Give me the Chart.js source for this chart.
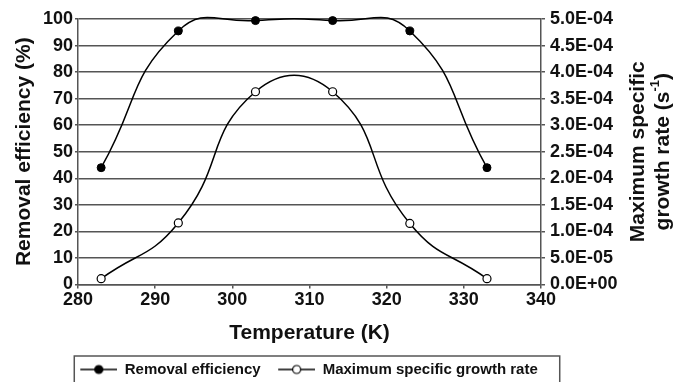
<!DOCTYPE html>
<html>
<head>
<meta charset="utf-8">
<script src="https://cdn.jsdelivr.net/npm/chart.js@4/dist/chart.umd.min.js"></script>
<style>
  html, body { margin: 0; padding: 0; background: #fff; }
  #wrap { width: 685px; height: 382px; }
</style>
</head>
<body>
<div id="wrap"><canvas id="chart" width="685" height="382"></canvas></div>
<script>
// temperatures (K)
const temps = [283, 293, 303, 313, 323, 333];
// removal efficiency (%)
const removal = [44, 95.5, 99.4, 99.4, 95.5, 44];
// maximum specific growth rate (s-1)
const growth = [1.1e-5, 1.16e-4, 3.63e-4, 3.63e-4, 1.15e-4, 1.1e-5];

const xTicks = [280, 290, 300, 310, 320, 330, 340];
const FONT = "'Liberation Sans', Arial, sans-serif";
const INK = '#111';
const GRID = '#555';

// legend icon: blank gap on the left, then a line with a marker in the middle
const ICON_GAP = 11, ICON_W = 37;
const LEGEND_SHIFT = 24;

function sci(v) {
  if (Math.abs(v) < 1e-12) return '0.0E+00';
  const parts = v.toExponential(1).split('e');
  const exp = parseInt(parts[1], 10);
  return parts[0] + 'E' + (exp < 0 ? '-' : '+') + String(Math.abs(exp)).padStart(2, '0');
}

function legendIcon(filled) {
  const c = document.createElement('canvas');
  c.width = ICON_GAP + ICON_W; c.height = 12;
  const g = c.getContext('2d');
  g.strokeStyle = '#000';
  g.lineWidth = 1.5;
  g.beginPath(); g.moveTo(ICON_GAP, 6); g.lineTo(ICON_GAP + ICON_W, 6); g.stroke();
  g.beginPath(); g.arc(ICON_GAP + ICON_W / 2, 6, 4, 0, Math.PI * 2);
  g.fillStyle = filled ? '#000' : '#fff';
  g.fill(); g.lineWidth = 1.2; g.stroke();
  return c;
}

const legendBox = {
  id: 'legendBox',
  afterLayout(chart) {
    const lg = chart.legend;
    if (!lg) return;
    lg.left -= LEGEND_SHIFT; lg.right -= LEGEND_SHIFT;
  },
  afterDraw(chart) {
    const boxes = chart.legend && chart.legend.legendHitBoxes;
    if (!boxes || !boxes.length) return;
    const first = boxes[0], last = boxes[boxes.length - 1];
    const ctx = chart.ctx;
    ctx.save();
    ctx.strokeStyle = '#555';
    ctx.lineWidth = 1.5;
    const l = first.left + ICON_GAP - 6;
    const r = last.left + last.width + 22;
    const t = first.top - 6;
    ctx.strokeRect(l, t, r - l, 40);
    ctx.restore();
  }
};

const rightTitle = {
  id: 'rightTitle',
  afterDraw(chart) {
    const ctx = chart.ctx;
    const a = chart.chartArea;
    const cy = (a.top + a.bottom) / 2;
    const big = 'bold 21px ' + FONT, small = 'bold 13px ' + FONT;
    ctx.save();
    ctx.fillStyle = INK;
    ctx.textBaseline = 'middle';
    // line 1
    ctx.save();
    ctx.translate(a.right + 97, cy);
    ctx.rotate(-Math.PI / 2);
    ctx.font = big;
    ctx.textAlign = 'center';
    ctx.fillText('Maximum specific', 0, 0);
    ctx.restore();
    // line 2 with superscript
    ctx.save();
    ctx.translate(a.right + 122, cy);
    ctx.rotate(-Math.PI / 2);
    ctx.textAlign = 'left';
    ctx.font = big;
    const w1 = ctx.measureText('growth rate (s').width;
    const w3 = ctx.measureText(')').width;
    ctx.font = small;
    const w2 = ctx.measureText('-1').width;
    let x = -(w1 + w2 + w3) / 2;
    ctx.font = big;
    ctx.fillText('growth rate (s', x, 0); x += w1;
    ctx.font = small;
    ctx.fillText('-1', x, -8); x += w2;
    ctx.font = big;
    ctx.fillText(')', x, 0);
    ctx.restore();
    ctx.restore();
  }
};

const tickFont = { family: FONT, size: 18, weight: 'bold' };

new Chart(document.getElementById('chart'), {
  type: 'line',
  data: {
    datasets: [
      {
        label: 'Removal efficiency',
        data: temps.map((t, i) => ({ x: t, y: removal[i] })),
        yAxisID: 'y',
        borderColor: '#000',
        borderWidth: 1.5,
        pointRadius: 4,
        pointBackgroundColor: '#000',
        pointBorderColor: '#000',
        pointBorderWidth: 1,
        tension: 0.5,
        clip: false
      },
      {
        label: 'Maximum specific growth rate',
        data: temps.map((t, i) => ({ x: t, y: growth[i] })),
        yAxisID: 'y1',
        borderColor: '#000',
        borderWidth: 1.5,
        pointRadius: 4,
        pointBackgroundColor: '#fff',
        pointBorderColor: '#000',
        pointBorderWidth: 1.2,
        tension: 0.5,
        clip: false
      }
    ]
  },
  options: {
    responsive: false,
    animation: false,
    devicePixelRatio: 1,
    elements: { line: { capBezierPoints: false } },
    layout: { padding: { top: 19, left: 0, right: 30, bottom: -5 } },
    plugins: {
      tooltip: { enabled: false },
      legend: {
        position: 'bottom',
        labels: {
          usePointStyle: true,
          pointStyleWidth: ICON_GAP + ICON_W,
          padding: 6.5,
          color: INK,
          font: { family: FONT, size: 15, weight: 'bold' },
          generateLabels(chart) {
            return chart.data.datasets.map((ds, i) => ({
              text: ds.label,
              pointStyle: legendIcon(i === 0),
              datasetIndex: i,
              fontColor: INK,
              lineWidth: 0
            }));
          }
        }
      }
    },
    scales: {
      x: {
        type: 'linear',
        min: 280, max: 340,
        afterBuildTicks: s => { s.ticks = xTicks.map(v => ({ value: v })); },
        afterFit: s => { s.height = 71; },
        grid: { drawOnChartArea: false, drawTicks: true, tickLength: 4, color: GRID, lineWidth: 1.5 },
        border: { display: true, color: GRID, width: 1.5 },
        ticks: { font: tickFont, color: INK, padding: 1, maxRotation: 0 },
        title: {
          display: true, text: 'Temperature (K)', color: INK,
          font: { family: FONT, size: 21, weight: 'bold' },
          padding: { top: 0, bottom: 10 }
        }
      },
      y: {
        position: 'left',
        min: 0, max: 100,
        afterFit: s => { s.width = 78; },
        ticks: { stepSize: 10, font: tickFont, color: INK, padding: 2 },
        grid: { color: GRID, lineWidth: 1.5, tickLength: 3 },
        border: { display: true, color: GRID, width: 1.5 },
        title: {
          display: true, text: 'Removal efficiency (%)', color: INK,
          font: { family: FONT, size: 21, weight: 'bold' },
          padding: { top: 12, bottom: 0 }
        }
      },
      y1: {
        position: 'right',
        min: 0, max: 5e-4,
        afterFit: s => { s.width = 114; },
        ticks: { count: 11, font: tickFont, color: INK, padding: 5, callback: v => sci(v) },
        grid: { drawOnChartArea: false, tickLength: 4, color: GRID, lineWidth: 1.5 },
        border: { display: true, color: GRID, width: 1.5 }
      }
    }
  },
  plugins: [legendBox, rightTitle]
});
</script>
</body>
</html>
